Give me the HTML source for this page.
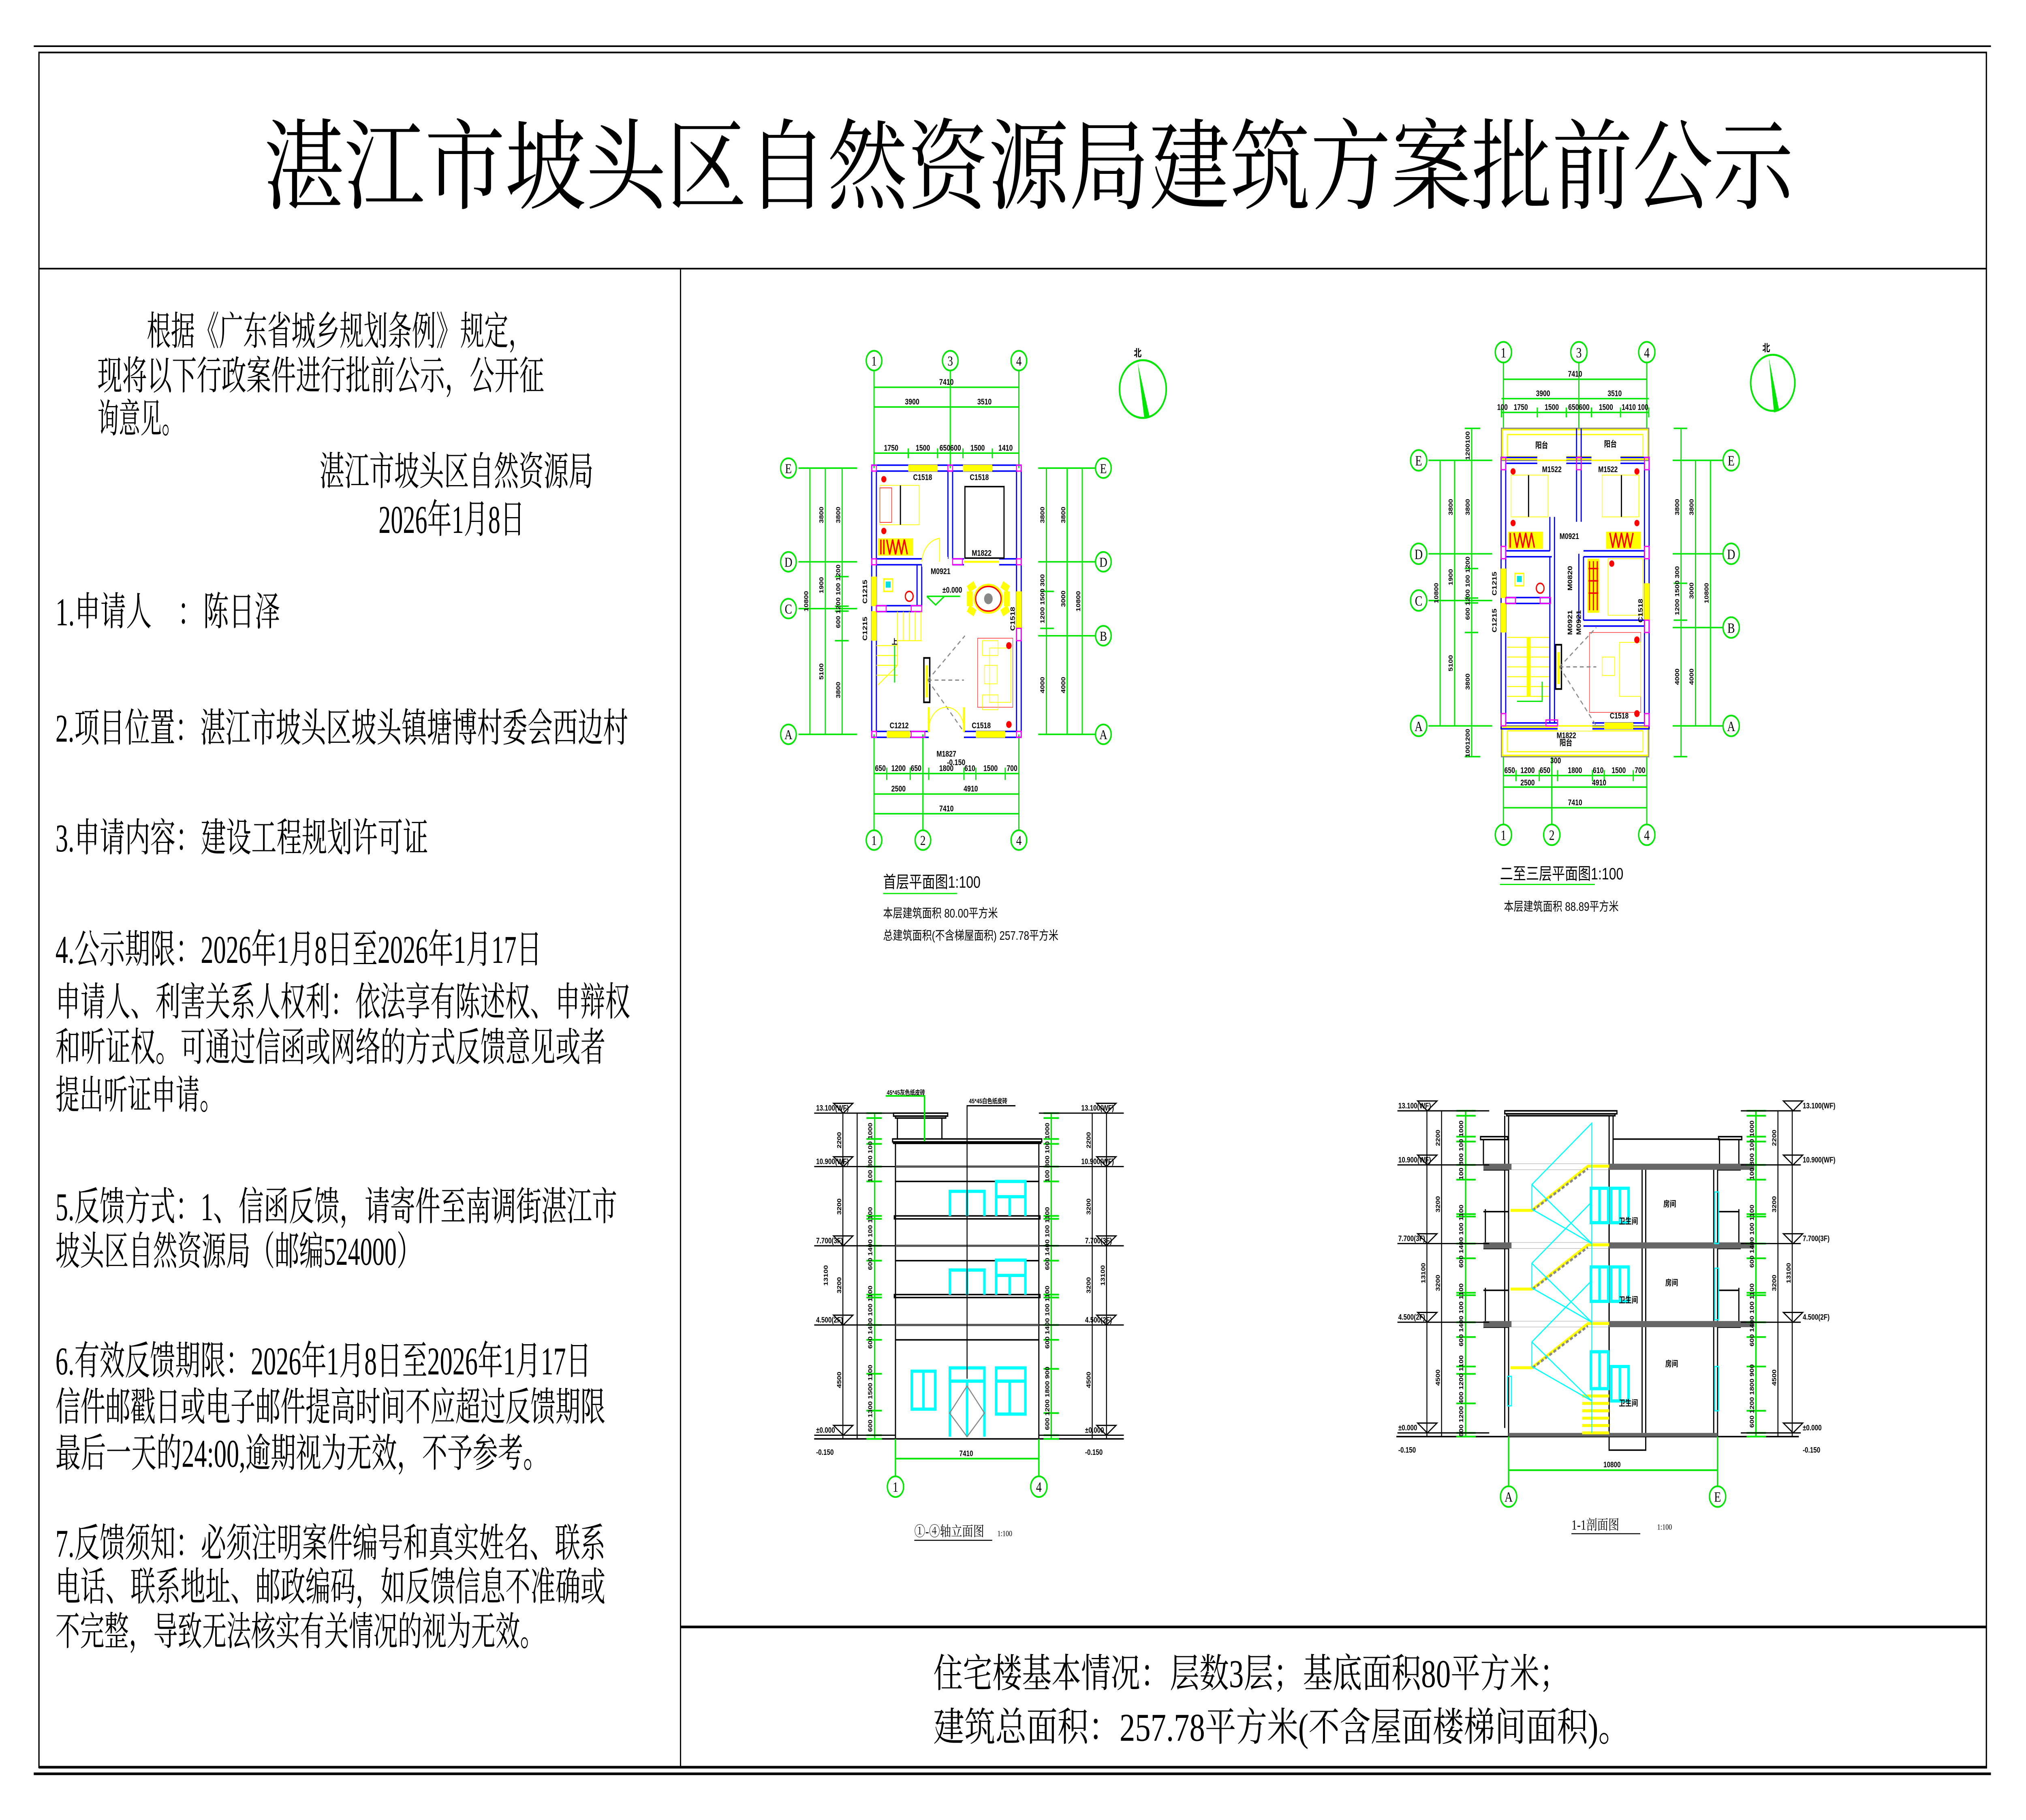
<!DOCTYPE html>
<html><head><meta charset="utf-8"><style>
html,body{margin:0;padding:0;background:#fff;width:100%;height:100%;overflow:hidden;}
svg{display:block;position:fixed;left:0;top:0;width:100vw;height:100vh;}
.t{font-family:"Liberation Serif","Noto Serif CJK SC",serif;fill:#000;}
.d{font-family:"Liberation Sans","Noto Sans CJK SC",sans-serif;font-weight:bold;fill:#000;}
.s{font-family:"Liberation Sans","Noto Sans CJK SC",sans-serif;fill:#000;}
</style></head><body>
<svg xmlns="http://www.w3.org/2000/svg" viewBox="0 0 1560 1103" preserveAspectRatio="none">
<rect width="1560" height="1103" fill="#fff"/>
<!-- frames -->
<line x1="26" y1="28" x2="1533" y2="28" stroke="#000" stroke-width="1"/>
<line x1="26" y1="1075" x2="1533" y2="1075" stroke="#000" stroke-width="1.6"/>
<rect x="30" y="31.8" width="1499.5" height="1039.3" fill="none" stroke="#000" stroke-width="1"/>
<line x1="30" y1="1071" x2="1530" y2="1071" stroke="#000" stroke-width="1.6"/>
<line x1="30" y1="162.8" x2="1529.5" y2="162.8" stroke="#000" stroke-width="1"/>
<line x1="524" y1="162.8" x2="524" y2="1071" stroke="#000" stroke-width="0.9"/>
<line x1="524" y1="986" x2="1529.5" y2="986" stroke="#000" stroke-width="1.6"/>

<!-- title -->
<text class="t" x="203" y="122" font-size="60" textLength="1178" lengthAdjust="spacingAndGlyphs">湛江市坡头区自然资源局建筑方案批前公示</text>

<!-- left text -->
<g class="t" font-size="24">
<text x="113" y="209" textLength="297" lengthAdjust="spacingAndGlyphs">根据《广东省城乡规划条例》规定，</text>
<text x="75" y="236" textLength="344" lengthAdjust="spacingAndGlyphs">现将以下行政案件进行批前公示，公开征</text>
<text x="75" y="262" textLength="66" lengthAdjust="spacingAndGlyphs">询意见。</text>
<text x="246" y="294" textLength="211" lengthAdjust="spacingAndGlyphs">湛江市坡头区自然资源局</text>
<text x="291.5" y="323" textLength="112.5" lengthAdjust="spacingAndGlyphs">2026年1月8日</text>
<text x="42.7" y="379" textLength="173" lengthAdjust="spacingAndGlyphs">1.申请人　：陈日泽</text>
<text x="42.7" y="449.5" textLength="441" lengthAdjust="spacingAndGlyphs">2.项目位置：湛江市坡头区坡头镇塘博村委会西边村</text>
<text x="42.7" y="516" textLength="287" lengthAdjust="spacingAndGlyphs">3.申请内容：建设工程规划许可证</text>
<text x="42.7" y="583.5" textLength="374.5" lengthAdjust="spacingAndGlyphs">4.公示期限：2026年1月8日至2026年1月17日</text>
<text x="42.7" y="615.5" textLength="442.5" lengthAdjust="spacingAndGlyphs">申请人、利害关系人权利：依法享有陈述权、申辩权</text>
<text x="42.7" y="643" textLength="423.5" lengthAdjust="spacingAndGlyphs">和听证权。可通过信函或网络的方式反馈意见或者</text>
<text x="42.7" y="672" textLength="129.5" lengthAdjust="spacingAndGlyphs">提出听证申请。</text>
<text x="42.7" y="739.5" textLength="432.5" lengthAdjust="spacingAndGlyphs">5.反馈方式：1、信函反馈，请寄件至南调街湛江市</text>
<text x="42.7" y="766.5" textLength="281.5" lengthAdjust="spacingAndGlyphs">坡头区自然资源局（邮编524000）</text>
<text x="42.7" y="833" textLength="412.5" lengthAdjust="spacingAndGlyphs">6.有效反馈期限：2026年1月8日至2026年1月17日</text>
<text x="42.7" y="861" textLength="423.5" lengthAdjust="spacingAndGlyphs">信件邮戳日或电子邮件提高时间不应超过反馈期限</text>
<text x="42.7" y="889" textLength="379.5" lengthAdjust="spacingAndGlyphs">最后一天的24:00,逾期视为无效，不予参考。</text>
<text x="42.7" y="943.5" textLength="423.5" lengthAdjust="spacingAndGlyphs">7.反馈须知：必须注明案件编号和真实姓名、联系</text>
<text x="42.7" y="970" textLength="423.5" lengthAdjust="spacingAndGlyphs">电话、联系地址、邮政编码，如反馈信息不准确或</text>
<text x="42.7" y="997" textLength="376.5" lengthAdjust="spacingAndGlyphs">不完整，导致无法核实有关情况的视为无效。</text>
<text x="718.6" y="1022.5" textLength="489.5" lengthAdjust="spacingAndGlyphs">住宅楼基本情况：层数3层；基底面积80平方米；</text>
<text x="718.6" y="1055" textLength="536" lengthAdjust="spacingAndGlyphs">建筑总面积：257.78平方米(不含屋面楼梯间面积)。</text>
</g>

<!-- ============ PLAN 1 ============ -->
<g transform="translate(673,283.7) scale(0.01505,0.01494)">
 <g stroke="#00e600" stroke-width="60" fill="none">
  <line x1="0" y1="-4000" x2="0" y2="0"/><line x1="3900" y1="-4000" x2="3900" y2="0"/><line x1="7410" y1="-4000" x2="7410" y2="0"/>
  <line x1="0" y1="-3280" x2="7410" y2="-3280"/><line x1="0" y1="-2480" x2="7410" y2="-2480"/><line x1="0" y1="-607" x2="7410" y2="-607"/>
  <path d="M1750 -800V-400M3250 -800V-400M4550 -800V-400M6050 -800V-400"/>
  <line x1="0" y1="10800" x2="0" y2="14700"/><line x1="2500" y1="10800" x2="2500" y2="14700"/><line x1="7410" y1="10800" x2="7410" y2="14700"/>
  <line x1="0" y1="12390" x2="7410" y2="12390"/><line x1="0" y1="13220" x2="7410" y2="13220"/><line x1="0" y1="14020" x2="7410" y2="14020"/>
  <path d="M650 12150V12650M1850 12150V12650M2800 12150V12650M4600 12150V12650M5210 12150V12650M6710 12150V12650"/>
  <line x1="-3867" y1="0" x2="-867" y2="0"/><line x1="-3867" y1="3800" x2="-867" y2="3800"/><line x1="-3867" y1="5700" x2="-867" y2="5700"/><line x1="-3867" y1="10800" x2="-867" y2="10800"/>
  <line x1="-3280" y1="0" x2="-3280" y2="10800"/><line x1="-2493" y1="0" x2="-2493" y2="10800"/><line x1="-1633" y1="0" x2="-1633" y2="10800"/>
  <path d="M-2000 4400H-1300M-2000 5600H-1300M-2000 5800H-1300M-2000 7000H-1300"/>
  <line x1="8400" y1="0" x2="11400" y2="0"/><line x1="8400" y1="3800" x2="11400" y2="3800"/><line x1="8400" y1="6800" x2="11400" y2="6800"/><line x1="8400" y1="10800" x2="11400" y2="10800"/>
  <line x1="8820" y1="0" x2="8820" y2="10800"/><line x1="9880" y1="0" x2="9880" y2="10800"/><line x1="10653" y1="0" x2="10653" y2="10800"/>
  <path d="M8500 5000H9200M8500 6500H9200"/>
 </g>
 <g stroke="#00e600" stroke-width="70" fill="#fff">
  <circle cx="0" cy="-4360" r="400"/><circle cx="3900" cy="-4360" r="400"/><circle cx="7410" cy="-4360" r="400"/>
  <circle cx="0" cy="15090" r="400"/><circle cx="2500" cy="15090" r="400"/><circle cx="7410" cy="15090" r="400"/>
  <circle cx="-4380" cy="0" r="400"/><circle cx="-4380" cy="3800" r="400"/><circle cx="-4380" cy="5700" r="400"/><circle cx="-4380" cy="10800" r="400"/>
  <circle cx="11733" cy="0" r="400"/><circle cx="11733" cy="3800" r="400"/><circle cx="11733" cy="6800" r="400"/><circle cx="11733" cy="10800" r="400"/>
 </g>
 <g class="t" font-size="560" text-anchor="middle">
  <text x="0" y="-4160">1</text><text x="3900" y="-4160">3</text><text x="7410" y="-4160">4</text>
  <text x="0" y="15290">1</text><text x="2500" y="15290">2</text><text x="7410" y="15290">4</text>
  <text x="-4380" y="200">E</text><text x="-4380" y="4000">D</text><text x="-4380" y="5900">C</text><text x="-4380" y="11000">A</text>
  <text x="11733" y="200">E</text><text x="11733" y="4000">D</text><text x="11733" y="7000">B</text><text x="11733" y="11000">A</text>
 </g>
 <g class="d" font-size="330" text-anchor="middle">
  <text x="3705" y="-3380">7410</text><text x="1950" y="-2580">3900</text><text x="5650" y="-2580">3510</text>
  <text x="875" y="-707">1750</text><text x="2500" y="-707">1500</text><text x="3900" y="-707">650600</text><text x="5300" y="-707">1500</text><text x="6730" y="-707">1410</text>
  <text x="325" y="12290">650</text><text x="1250" y="12290">1200</text><text x="2150" y="12290">650</text><text x="3700" y="12290">1800</text><text x="4900" y="12290">610</text><text x="5960" y="12290">1500</text><text x="7060" y="12290">700</text>
  <text x="1250" y="13120">2500</text><text x="4950" y="13120">4910</text><text x="3705" y="13920">7410</text>
  <text x="3700" y="11700">M1827</text><text x="4200" y="12050">-0.150</text>
 </g>
 <rect x="-120" y="-120" width="7650" height="11040" fill="none" stroke="#0000ff" stroke-width="60"/>
 <rect x="120" y="120" width="7170" height="10560" fill="none" stroke="#0000ff" stroke-width="60"/>
 <path d="M3780 120V3680M4020 120V3680M120 3680H2450M120 3920H2450M2200 3920V5580M2440 3920V5580M120 5580H2440M120 5820H2440M4020 3680H4600M4020 3920H4600M6400 3680H7290M6400 3920H7290" stroke="#0000ff" stroke-width="60" fill="none"/>
 <g fill="#fff"><rect x="2800" y="10600" width="1800" height="400"/><rect x="2450" y="3600" width="1330" height="400"/><rect x="4600" y="3600" width="1800" height="400"/></g>
 <g fill="#ffff00">
  <rect x="1750" y="-140" width="1500" height="280"/><rect x="4550" y="-140" width="1500" height="280"/>
  <rect x="650" y="10660" width="1200" height="280"/><rect x="5210" y="10660" width="1500" height="280"/>
  <rect x="-140" y="4400" width="280" height="1200"/><rect x="-140" y="5800" width="280" height="1200"/>
  <rect x="7270" y="5000" width="280" height="1500"/>
  <rect x="4600" y="3760" width="1800" height="80"/>
 </g>
 <g fill="none" stroke="#ff00ff" stroke-width="50">
  <rect x="-120" y="-120" width="240" height="240"/><rect x="3780" y="-120" width="240" height="240"/><rect x="7290" y="-120" width="240" height="240"/>
  <rect x="-120" y="3680" width="240" height="240"/><rect x="7290" y="3680" width="240" height="240"/><rect x="4020" y="3680" width="500" height="240"/>
  <rect x="-120" y="10680" width="240" height="240"/><rect x="7290" y="10680" width="240" height="240"/><rect x="1900" y="10680" width="700" height="240"/>
  <rect x="7290" y="6500" width="240" height="500"/><rect x="120" y="5580" width="500" height="240"/><rect x="1900" y="5580" width="540" height="240"/>
 </g>
 <rect x="300" y="700" width="2000" height="1600" fill="none" stroke="#ffff00" stroke-width="30"/>
 <line x1="1350" y1="700" x2="1350" y2="2300" stroke="#000" stroke-width="60"/>
 <path d="M300 800H900V2200H300Z" fill="none" stroke="#ff3030" stroke-width="30"/>
 <rect x="200" y="2850" width="1800" height="700" fill="#ffff00"/>
 <path d="M350 2900V3500M500 2900V3500M650 2900L800 3500L950 2900L1100 3500L1250 2900L1400 3500L1550 2900L1700 3500" stroke="#ff0000" stroke-width="70" fill="none"/>
 <rect x="4650" y="750" width="2000" height="2900" fill="none" stroke="#000" stroke-width="60"/>
 <path d="M2450 3800A1000 1000 0 0 1 3350 2850V3800" fill="none" stroke="#ffff00" stroke-width="40"/>
 <rect x="500" y="4500" width="450" height="500" fill="none" stroke="#ffff00" stroke-width="60"/>
 <rect x="600" y="4600" width="250" height="250" fill="#00e0e0"/>
 <circle cx="1800" cy="5200" r="200" fill="none" stroke="#ff0000" stroke-width="60"/>
 <g stroke="#ffff00" stroke-width="40" fill="none">
  <path d="M1200 5820V7000M1500 5820V7000M1800 5820V7000M2100 5820V7000M2400 5820V7000M1100 7000H2440"/>
  <path d="M120 7200H1200M120 7600H1200M120 8000H1200M120 8400H1200M1200 7000V8000L200 8800"/>
 </g>
 <line x1="1050" y1="7200" x2="1050" y2="8700" stroke="#00e600" stroke-width="50"/>
 <text class="d" x="900" y="7150" font-size="300">上</text>
 <g transform="translate(5850,5300)">
  <g fill="#ffff00"><rect x="-1100" y="-300" width="300" height="600"/><rect x="800" y="-300" width="300" height="600"/><rect x="-700" y="-1000" width="400" height="300" transform="rotate(-30)"/><rect x="300" y="-1000" width="400" height="300" transform="rotate(30)"/><rect x="-700" y="700" width="400" height="300" transform="rotate(30)"/><rect x="300" y="700" width="400" height="300" transform="rotate(-30)"/></g>
  <ellipse rx="700" ry="550" fill="#fff" stroke="#ffff00" stroke-width="120"/>
  <ellipse rx="650" ry="500" fill="none" stroke="#ff0000" stroke-width="60"/>
  <circle r="220" fill="#888"/>
 </g>
 <rect x="5300" y="6900" width="1800" height="2800" fill="none" stroke="#ff3030" stroke-width="25"/>
 <rect x="5900" y="7300" width="1100" height="2200" fill="none" stroke="#ffff00" stroke-width="30"/>
 <rect x="5550" y="7000" width="800" height="600" fill="none" stroke="#ffff00" stroke-width="30"/>
 <rect x="5550" y="9200" width="800" height="600" fill="none" stroke="#ffff00" stroke-width="30"/>
 <rect x="5650" y="8000" width="650" height="750" fill="none" stroke="#ffff00" stroke-width="30"/>
 <rect x="2550" y="7700" width="300" height="1800" fill="none" stroke="#000" stroke-width="70"/>
 <rect x="2640" y="8000" width="120" height="1300" fill="#ffff00"/>
 <path d="M2750 8600L4650 6800M2750 8600H4600M2750 8600L4600 10700" stroke="#888" stroke-width="50" stroke-dasharray="200 150" fill="none"/>
 <path d="M2800 10600A900 900 0 0 1 3700 9700M4600 10600A900 900 0 0 0 3700 9700" fill="none" stroke="#ffff00" stroke-width="40"/>
 <path d="M2800 9700V10700M4600 9700V10700" stroke="#ffff00" stroke-width="100"/>
 <g fill="#ff0000"><circle cx="500" cy="450" r="130"/><circle cx="500" cy="2550" r="130"/><circle cx="6900" cy="7200" r="140"/><circle cx="6900" cy="10400" r="140"/></g>
 <path d="M2700 5200H4400M2700 5200L3150 5550L3600 5200" stroke="#00e600" stroke-width="60" fill="none"/>
 <g class="d" font-size="330">
  <text x="2000" y="480">C1518</text><text x="4900" y="480">C1518</text><text x="5000" y="3560">M1822</text>
  <text x="3500" y="5050">±0.000</text><text x="800" y="10550">C1212</text><text x="5000" y="10550">C1518</text>
  <text x="2900" y="4300">M0921</text>
  <text transform="translate(-350,5500) rotate(-90)">C1215</text><text transform="translate(-350,7000) rotate(-90)">C1215</text>
  <text transform="translate(7200,6600) rotate(-90)">C1518</text>
 </g>
 <g class="d" font-size="300" text-anchor="middle">
  <text transform="translate(-3370,5400) rotate(-90)">10800</text>
  <text transform="translate(-2590,1900) rotate(-90)">3800</text><text transform="translate(-2590,4750) rotate(-90)">1900</text><text transform="translate(-2590,8250) rotate(-90)">5100</text>
  <text transform="translate(-1730,1900) rotate(-90)">3800</text><text transform="translate(-1730,5200) rotate(-90)">600 1200 100 1200</text><text transform="translate(-1730,9000) rotate(-90)">3800</text>
  <text transform="translate(8720,1900) rotate(-90)">3800</text><text transform="translate(8720,5300) rotate(-90)">1200 1500 300</text><text transform="translate(8720,8800) rotate(-90)">4000</text>
  <text transform="translate(9780,1900) rotate(-90)">3800</text><text transform="translate(9780,5300) rotate(-90)">3000</text><text transform="translate(9780,8800) rotate(-90)">4000</text>
  <text transform="translate(10550,5400) rotate(-90)">10800</text>
 </g>
</g>
<ellipse cx="880" cy="235.8" rx="18" ry="17.5" fill="none" stroke="#00e600" stroke-width="1.2"/>
<path d="M876 220L885 252L881 253Z" fill="#00e600"/>
<text class="d" x="873" y="216" font-size="6">北</text>
<text class="s" x="680" y="538" font-size="10">首层平面图1:100</text>
<line x1="680" y1="541.5" x2="737" y2="541.5" stroke="#00e600" stroke-width="0.7"/>
<text class="s" x="680" y="556" font-size="7.5">本层建筑面积 80.00平方米</text>
<text class="s" x="680" y="569.5" font-size="7.5">总建筑面积(不含梯屋面积) 257.78平方米</text>

<!-- ============ PLAN 2 ============ -->
<g transform="translate(1157.6,279) scale(0.0149)">
 <g stroke="#00e600" stroke-width="60" fill="none">
  <line x1="0" y1="-4000" x2="0" y2="-1300"/><line x1="3900" y1="-4000" x2="3900" y2="-1300"/><line x1="7410" y1="-4000" x2="7410" y2="-1300"/>
  <line x1="0" y1="-3300" x2="7410" y2="-3300"/><line x1="-100" y1="-2510" x2="7510" y2="-2510"/><line x1="-100" y1="-1950" x2="7510" y2="-1950"/>
  <path d="M-100 -2150V-1750M1750 -2150V-1750M3250 -2150V-1750M4550 -2150V-1750M6050 -2150V-1750M7510 -2150V-1750"/>
  <line x1="0" y1="12050" x2="0" y2="14900"/><line x1="2500" y1="12050" x2="2500" y2="14900"/><line x1="7410" y1="12050" x2="7410" y2="14900"/>
  <line x1="0" y1="12820" x2="7410" y2="12820"/><line x1="0" y1="13290" x2="7410" y2="13290"/><line x1="0" y1="14130" x2="7410" y2="14130"/>
  <path d="M650 12600V13050M1850 12600V13050M2800 12600V13050M4600 12600V13050M5210 12600V13050M6710 12600V13050"/>
  <line x1="-3870" y1="0" x2="-580" y2="0"/><line x1="-3870" y1="3800" x2="-580" y2="3800"/><line x1="-3870" y1="5700" x2="-580" y2="5700"/><line x1="-3870" y1="10800" x2="-580" y2="10800"/>
  <line x1="-3270" y1="0" x2="-3270" y2="10800"/><line x1="-2520" y1="0" x2="-2520" y2="10800"/><line x1="-1640" y1="-1300" x2="-1640" y2="12050"/>
  <path d="M-2000 -1300H-1200M-2000 12050H-1200M-2000 4400H-1300M-2000 5600H-1300M-2000 5800H-1300M-2000 7000H-1300"/>
  <line x1="8750" y1="0" x2="11400" y2="0"/><line x1="8750" y1="3800" x2="11400" y2="3800"/><line x1="8750" y1="6800" x2="11400" y2="6800"/><line x1="8750" y1="10800" x2="11400" y2="10800"/>
  <line x1="9180" y1="-1300" x2="9180" y2="12050"/><line x1="9930" y1="0" x2="9930" y2="10800"/><line x1="10700" y1="0" x2="10700" y2="10800"/>
  <path d="M8800 -1300H9500M8800 12050H9500M8800 5000H9500M8800 6500H9500"/>
 </g>
 <g stroke="#00e600" stroke-width="70" fill="#fff">
  <circle cx="0" cy="-4400" r="420"/><circle cx="3900" cy="-4400" r="420"/><circle cx="7410" cy="-4400" r="420"/>
  <circle cx="0" cy="15230" r="420"/><circle cx="2500" cy="15230" r="420"/><circle cx="7410" cy="15230" r="420"/>
  <circle cx="-4380" cy="0" r="420"/><circle cx="-4380" cy="3800" r="420"/><circle cx="-4380" cy="5700" r="420"/><circle cx="-4380" cy="10800" r="420"/>
  <circle cx="11770" cy="0" r="420"/><circle cx="11770" cy="3800" r="420"/><circle cx="11770" cy="6800" r="420"/><circle cx="11770" cy="10800" r="420"/>
 </g>
 <g class="t" font-size="580" text-anchor="middle">
  <text x="0" y="-4190">1</text><text x="3900" y="-4190">3</text><text x="7410" y="-4190">4</text>
  <text x="0" y="15440">1</text><text x="2500" y="15440">2</text><text x="7410" y="15440">4</text>
  <text x="-4380" y="210">E</text><text x="-4380" y="4010">D</text><text x="-4380" y="5910">C</text><text x="-4380" y="11010">A</text>
  <text x="11770" y="210">E</text><text x="11770" y="4010">D</text><text x="11770" y="7010">B</text><text x="11770" y="11010">A</text>
 </g>
 <g class="d" font-size="330" text-anchor="middle">
  <text x="3705" y="-3400">7410</text><text x="2050" y="-2610">3900</text><text x="5750" y="-2610">3510</text>
  <text x="-50" y="-2050">100</text><text x="900" y="-2050">1750</text><text x="2500" y="-2050">1500</text><text x="3900" y="-2050">650600</text><text x="5300" y="-2050">1500</text><text x="6800" y="-2050">1410 100</text>
  <text x="325" y="12720">650</text><text x="1250" y="12720">1200</text><text x="2150" y="12720">650</text><text x="3700" y="12720">1800</text><text x="4900" y="12720">610</text><text x="5960" y="12720">1500</text><text x="7060" y="12720">700</text>
  <text x="1250" y="13220">2500</text><text x="4950" y="13220">4910</text><text x="3705" y="14030">7410</text><text x="2700" y="12320">300</text>
 </g>
 <rect x="-100" y="-1300" width="7610" height="1300" fill="none" stroke="#888" stroke-width="60"/>
 <rect x="-50" y="-1250" width="7510" height="1200" fill="none" stroke="#ffff00" stroke-width="60"/>
 <rect x="200" y="-1050" width="7010" height="900" fill="none" stroke="#ffff00" stroke-width="50"/>
 <rect x="-100" y="10800" width="7610" height="1250" fill="none" stroke="#888" stroke-width="60"/>
 <rect x="-50" y="10850" width="7510" height="1150" fill="none" stroke="#ffff00" stroke-width="60"/>
 <rect x="200" y="11000" width="7010" height="850" fill="none" stroke="#ffff00" stroke-width="50"/>
 <path d="M3780 -1300V0M4020 -1300V0" stroke="#0000ff" stroke-width="60"/>
 <rect x="-120" y="-120" width="7650" height="11040" fill="none" stroke="#0000ff" stroke-width="60"/>
 <rect x="120" y="120" width="7170" height="10560" fill="none" stroke="#0000ff" stroke-width="60"/>
 <path d="M3780 120V2500M4020 120V2500M120 3680H2400M120 3920H2500M2400 2300V3680M2640 2300V10680M2400 3920V10680M3900 3800V6600M4140 3920V6500M4140 3680H7290M4140 3920H7290M4140 6500H7290M4140 6740H7290M120 5580H2400M120 5820H2400" stroke="#0000ff" stroke-width="60" fill="none"/>
 <g fill="#fff"><rect x="1750" y="-200" width="1500" height="400"/><rect x="4550" y="-200" width="1500" height="400"/><rect x="2800" y="10600" width="1800" height="400"/></g>
 <g fill="#ffff00">
  <rect x="1750" y="-30" width="1500" height="60"/><rect x="4550" y="-30" width="1500" height="60"/>
  <rect x="2800" y="10770" width="1800" height="60"/><rect x="5210" y="10660" width="1500" height="280"/>
  <rect x="-140" y="4400" width="280" height="1200"/><rect x="-140" y="5800" width="280" height="1200"/>
  <rect x="7270" y="5000" width="280" height="1500"/>
 </g>
 <g fill="none" stroke="#ff00ff" stroke-width="50">
  <rect x="-120" y="-120" width="240" height="500"/><rect x="3780" y="-120" width="240" height="500"/><rect x="7290" y="-120" width="240" height="500"/>
  <rect x="-120" y="3500" width="240" height="500"/><rect x="7290" y="3500" width="240" height="500"/>
  <rect x="-120" y="10300" width="240" height="500"/><rect x="7290" y="10300" width="240" height="500"/><rect x="2200" y="10560" width="600" height="240"/>
  <rect x="7290" y="6500" width="240" height="500"/><rect x="120" y="5580" width="500" height="240"/><rect x="1900" y="5580" width="540" height="240"/>
 </g>
 <rect x="400" y="600" width="1900" height="1700" fill="none" stroke="#ffff00" stroke-width="30"/>
 <line x1="1300" y1="600" x2="1300" y2="2300" stroke="#000" stroke-width="60"/>
 <rect x="5100" y="600" width="1900" height="1700" fill="none" stroke="#ffff00" stroke-width="30"/>
 <line x1="6100" y1="600" x2="6100" y2="2300" stroke="#000" stroke-width="60"/>
 <rect x="250" y="2900" width="1800" height="700" fill="#ffff00"/><rect x="5300" y="2900" width="1800" height="700" fill="#ffff00"/>
 <path d="M350 2950V3550M550 2950L700 3550L850 2950L1000 3550L1150 2950L1300 3550L1450 2950L1600 3550M5500 2950L5650 3550L5800 2950L5950 3550L6100 2950L6250 3550L6400 2950L6550 3550L6700 2950" stroke="#ff0000" stroke-width="70" fill="none"/>
 <rect x="4350" y="4000" width="600" height="2200" fill="#ffff00"/>
 <path d="M4450 4100V6100M4650 4100V6100M4850 4100V6100M4400 4400H4900M4400 4900H4900M4400 5400H4900" stroke="#ff0000" stroke-width="60"/>
 <rect x="5400" y="4000" width="1800" height="2300" fill="none" stroke="#ffff00" stroke-width="30"/>
 <rect x="600" y="4600" width="450" height="500" fill="none" stroke="#ffff00" stroke-width="60"/>
 <rect x="700" y="4700" width="250" height="250" fill="#00e0e0"/>
 <circle cx="1900" cy="5200" r="200" fill="none" stroke="#ff0000" stroke-width="60"/>
 <g stroke="#ffff00" stroke-width="40" fill="none">
  <path d="M200 7200H2350M200 7600H2350M200 8000H2350M200 8400H2350M200 8800H2350M200 9200H2350M200 9600H2350"/>
  <path d="M1300 7200V9600" stroke-width="200"/>
 </g>
 <path d="M700 9800H2000V9000" stroke="#00e600" stroke-width="50" fill="none"/>
 <rect x="4450" y="7000" width="2650" height="3250" fill="none" stroke="#ff3030" stroke-width="25"/>
 <rect x="6000" y="7400" width="1100" height="2200" fill="none" stroke="#ffff00" stroke-width="30"/>
 <rect x="5100" y="8000" width="650" height="750" fill="none" stroke="#ffff00" stroke-width="30"/>
 <rect x="2700" y="7500" width="300" height="1800" fill="none" stroke="#000" stroke-width="70"/>
 <rect x="2790" y="7800" width="120" height="1300" fill="#ffff00"/>
 <path d="M2900 8400L4800 6800M2900 8400H4800M2900 8400L4800 10800" stroke="#888" stroke-width="50" stroke-dasharray="200 150" fill="none"/>
 <g fill="#ff0000"><circle cx="500" cy="450" r="130"/><circle cx="500" cy="2550" r="130"/><circle cx="6900" cy="450" r="130"/><circle cx="6900" cy="2550" r="130"/><circle cx="6900" cy="7300" r="140"/><circle cx="6900" cy="10300" r="140"/><circle cx="5600" cy="4200" r="130"/></g>
 <g class="d" font-size="330">
  <text x="1650" y="-500">阳台</text><text x="5200" y="-550">阳台</text>
  <text x="2000" y="480">M1522</text><text x="4900" y="480">M1522</text><text x="5500" y="10500">C1518</text>
  <text x="2750" y="11300">M1822</text><text x="2900" y="3200">M0921</text><text x="2900" y="11600">阳台</text>
  <text transform="translate(-350,5500) rotate(-90)">C1215</text><text transform="translate(-350,7000) rotate(-90)">C1215</text>
  <text transform="translate(7200,6600) rotate(-90)">C1518</text>
  <text transform="translate(3550,5300) rotate(-90)">M0820</text><text transform="translate(3550,7100) rotate(-90)">M0921</text><text transform="translate(4000,7100) rotate(-90)">M0921</text>
 </g>
 <g class="d" font-size="300" text-anchor="middle">
  <text transform="translate(-3370,5400) rotate(-90)">10800</text>
  <text transform="translate(-2620,1900) rotate(-90)">3800</text><text transform="translate(-2620,4750) rotate(-90)">1900</text><text transform="translate(-2620,8250) rotate(-90)">5100</text>
  <text transform="translate(-1740,1900) rotate(-90)">3800</text><text transform="translate(-1740,5200) rotate(-90)">600 1200 100 1200</text><text transform="translate(-1740,9000) rotate(-90)">3800</text>
  <text transform="translate(-1740,-600) rotate(-90)">1200100</text><text transform="translate(-1740,11500) rotate(-90)">1001200</text>
  <text transform="translate(9080,1900) rotate(-90)">3800</text><text transform="translate(9080,5300) rotate(-90)">1200 1500 300</text><text transform="translate(9080,8800) rotate(-90)">4000</text>
  <text transform="translate(9830,1900) rotate(-90)">3800</text><text transform="translate(9830,5300) rotate(-90)">3000</text><text transform="translate(9830,8800) rotate(-90)">4000</text>
  <text transform="translate(10600,5400) rotate(-90)">10800</text>
 </g>
</g>
<ellipse cx="1365" cy="232" rx="17" ry="17" fill="none" stroke="#00e600" stroke-width="1.2"/>
<path d="M1362 217L1370 249L1366 250Z" fill="#00e600"/>
<text class="d" x="1357" y="213" font-size="6">北</text>
<text class="s" x="1155" y="533" font-size="10">二至三层平面图1:100</text>
<line x1="1155" y1="536" x2="1228" y2="536" stroke="#00e600" stroke-width="0.7"/>
<text class="s" x="1158" y="552" font-size="7.5">本层建筑面积 88.89平方米</text>

<!-- ============ ELEVATION ============ -->
<g transform="translate(689.5,869.8) scale(0.0149)">
 <g stroke="#000" stroke-width="60" fill="none">
  <line x1="-4200" y1="150" x2="11800" y2="150"/>
  <path d="M0 150V-11950M7410 150V-11950"/>
  <rect x="-150" y="-12050" width="7710" height="120"/>
  <rect x="-100" y="-11930" width="7610" height="60"/>
  <path d="M100 -12050V-12900M2400 -12050V-12900"/>
  <rect x="-100" y="-13100" width="2800" height="120"/><rect x="0" y="-12980" width="2600" height="80"/>
  <rect x="-60" y="-8920" width="7530" height="120"/><rect x="-60" y="-5720" width="7530" height="120"/>
  <path d="M0 -10322H7410M0 -7100H7410M0 -3879H7410"/>
 </g>
 <path d="M0 -10926H7410M0 -7705H7410M0 -4483H7410" stroke="#555" stroke-width="90"/>
 <g stroke="#00ffff" stroke-width="130" fill="none">
  <path d="M2812 -8913V-9919H4597V-8913M3700 -9919V-8913"/>
  <path d="M5201 -8913V-10322H6711V-8913M5201 -9700H6711M5900 -9700V-8913"/>
  <path d="M2812 -5713V-6719H4597V-5713M3700 -6719V-5713"/>
  <path d="M5201 -5713V-7122H6711V-5713M5201 -6500H6711M5900 -6500V-5713"/>
  <rect x="843" y="-2604" width="1207" height="1544"/><path d="M1446 -2604V-1060"/>
  <path d="M2812 60V-2738H4597V60M2812 -2200H4597M3700 -2200V60"/>
  <rect x="5201" y="-2738" width="1510" height="1879"/><path d="M5201 -2200H6711M5900 -2200V-859"/>
 </g>
 <path d="M3700 -2000L4600 -900L3700 60L2800 -900Z" stroke="#888" stroke-width="50" fill="none"/>
 <path d="M3700 -2300V-13400H6200" stroke="#000" stroke-width="50" fill="none"/>
 <path d="M1500 -11950V-13800H-500" stroke="#00e600" stroke-width="70" fill="none"/>
 <path d="M-1074 150V-13100M8050 150V-13100" stroke="#00e600" stroke-width="70"/>
 <g stroke="#00e600" stroke-width="70"><path d="M-1500 -13100H-700M-1500 -12900H-700M-1500 -12050H-700M-1500 -11850H-700M-1500 -10926H-700M-1500 -10322H-700M-1500 -8920H-700M-1500 -8800H-700M-1500 -7705H-700M-1500 -7100H-700M-1500 -5720H-700M-1500 -5600H-700M-1500 -4483H-700M-1500 -3879H-700M-1500 -2500H-700M-1500 -1000H-700M-1500 0H-700M-1500 150H-700"/>
 <path d="M7650 -13100H8450M7650 -12900H8450M7650 -12050H8450M7650 -11850H8450M7650 -10926H8450M7650 -10322H8450M7650 -8920H8450M7650 -8800H8450M7650 -7705H8450M7650 -7100H8450M7650 -5720H8450M7650 -5600H8450M7650 -4483H8450M7650 -3879H8450M7650 -2700H8450M7650 -900H8450M7650 0H8450M7650 150H8450"/></g>
 <g stroke="#000" stroke-width="50" fill="none">
  <path d="M-2718 150V-13100M-1980 150V-13100M10168 150V-13100M10906 150V-13100"/>
  <path d="M-4200 -13100H0M-4200 -10926H0M-4200 -7705H0M-4200 -4483H0M-4200 0H0"/>
  <path d="M7410 -13100H11800M7410 -10926H11800M7410 -7705H11800M7410 -4483H11800M7410 0H11800"/>
  <path d="M-3200 -13500L-2700 -13100L-2200 -13500ZM-3200 -11326L-2700 -10926L-2200 -11326ZM-3200 -8105L-2700 -7705L-2200 -8105ZM-3200 -4883L-2700 -4483L-2200 -4883ZM-3200 -400L-2700 0L-2200 -400Z"/>
  <path d="M10400 -13500L10900 -13100L11400 -13500ZM10400 -11326L10900 -10926L11400 -11326ZM10400 -8105L10900 -7705L11400 -8105ZM10400 -4883L10900 -4483L11400 -4883ZM10400 -400L10900 0L11400 -400Z"/>
 </g>
 <path d="M0 150V2100M7410 150V2100M0 953H7410" stroke="#00e600" stroke-width="70" fill="none"/>
 <g stroke="#00e600" stroke-width="70" fill="#fff"><circle cx="0" cy="2094" r="420"/><circle cx="7410" cy="2094" r="420"/></g>
 <g class="t" font-size="580" text-anchor="middle"><text x="0" y="2300">1</text><text x="7410" y="2300">4</text></g>
 <g class="d" font-size="320">
  <text x="-4100" y="-13200">13.100(WF)</text><text x="-4100" y="-11026">10.900(WF)</text><text x="-4100" y="-7805">7.700(3F)</text><text x="-4100" y="-4583">4.500(2F)</text><text x="-4100" y="-100">±0.000</text><text x="-4100" y="800">-0.150</text>
  <text x="9600" y="-13200">13.100(WF)</text><text x="9600" y="-11026">10.900(WF)</text><text x="9800" y="-7805">7.700(3F)</text><text x="9800" y="-4583">4.500(2F)</text><text x="9800" y="-100">±0.000</text><text x="9800" y="800">-0.150</text>
  <text x="3300" y="850">7410</text>
  <text x="-450" y="-13850" font-size="260">45*45灰色纸皮砖</text><text x="3800" y="-13500" font-size="260">45*45白色纸皮砖</text>
 </g>
 <g class="d" font-size="300" text-anchor="middle">
  <text transform="translate(-2800,-12000) rotate(-90)">2200</text><text transform="translate(-2800,-9300) rotate(-90)">3200</text><text transform="translate(-2800,-6100) rotate(-90)">3200</text><text transform="translate(-2800,-2250) rotate(-90)">4500</text>
  <text transform="translate(-3500,-6500) rotate(-90)">13100</text>
  <text transform="translate(-1200,-11500) rotate(-90)">100 800 100 1000</text><text transform="translate(-1200,-8000) rotate(-90)">600 1400 100 1100</text><text transform="translate(-1200,-4800) rotate(-90)">600 1400 100 1100</text><text transform="translate(-1200,-1500) rotate(-90)">600 1300 1500 1100</text>
  <text transform="translate(7950,-11500) rotate(-90)">100 800 100 1000</text><text transform="translate(7950,-8000) rotate(-90)">600 1400 100 1100</text><text transform="translate(7950,-4800) rotate(-90)">600 1400 100 1100</text><text transform="translate(7950,-1500) rotate(-90)">600 1200 1800 900</text>
  <text transform="translate(10080,-12000) rotate(-90)">2200</text><text transform="translate(10080,-9300) rotate(-90)">3200</text><text transform="translate(10080,-6100) rotate(-90)">3200</text><text transform="translate(10080,-2250) rotate(-90)">4500</text>
  <text transform="translate(10820,-6500) rotate(-90)">13100</text>
 </g>
</g>
<text class="t" x="704" y="931" font-size="8.5">①-④轴立面图</text>
<text class="t" x="768" y="931" font-size="5">1:100</text>
<line x1="704" y1="933.5" x2="764" y2="933.5" stroke="#000" stroke-width="0.6"/>

<!-- ============ SECTION ============ -->
<g transform="translate(1161.6,868.4) scale(0.0149)">
 <g stroke="#000" stroke-width="60" fill="none">
  <line x1="-5800" y1="150" x2="15000" y2="150"/>
  <path d="M0 150V-12900M-200 -200V-12900M5195 150V-12900M5400 -10900V-12900"/>
  <rect x="-200" y="-13100" width="5800" height="120"/><rect x="-100" y="-12980" width="5600" height="80"/>
  <path d="M5400 -11950H10900V-10900M10800 -10900V150M10600 -10900V150M7087 -10800V0M6900 -10800V0M5195 -10800V150"/>
  <rect x="-1450" y="-12050" width="1400" height="120"/><rect x="10850" y="-12050" width="1200" height="120"/>
  <path d="M-1300 -11930V-10900M11900 -11930V-10900"/>
  <path d="M-1300 -10700H0M-1300 -7500H0M-1300 -4300H0M10800 -10700H12000M10800 -7500H12000M10800 -4300H12000"/>
  <path d="M-1300 -9000H0V-8700M-1300 -5800H0M11900 -9000H10800M11900 -5800H10800"/>
  <path d="M-1200 -9100V-7600M-1200 -5900V-4400M11900 -9100V-7600M11900 -5900V-4400"/>
  <path d="M5195 0V700H7087V0"/>
 </g>
 <g fill="#666">
  <rect x="-1300" y="-10950" width="14000" height="250"/><rect x="-1300" y="-7750" width="14000" height="250"/><rect x="-1300" y="-4550" width="14000" height="250"/>
  <rect x="0" y="0" width="10800" height="150"/>
 </g>
 <g fill="#fff"><rect x="150" y="-10940" width="5000" height="230"/><rect x="150" y="-7740" width="5000" height="230"/><rect x="150" y="-4540" width="5000" height="230"/></g>
 <g stroke="#ffff00" stroke-width="120" fill="none">
  <path d="M100 -9050H1200L4100 -10850H5195"/>
  <path d="M100 -5850H1200L4100 -7650H5195"/>
  <path d="M100 -2650H1200L4100 -4450H5195"/>
  <path d="M3800 0H5195M3800 -300H5195M3800 -600H5195M3800 -900H5195M3800 -1200H5195M3800 -1500H5195"/>
 </g>
 <g stroke="#888" stroke-width="100" fill="none" stroke-dasharray="150 100">
  <path d="M1250 -9050L4100 -10750"/><path d="M1250 -5850L4100 -7550"/><path d="M1250 -2650L4100 -4350"/>
 </g>
 <g stroke="#00ffff" stroke-width="50" fill="none">
  <path d="M1200 -9100V-10100L4300 -12600V-10900M1200 -10100L4300 -7700M1200 -9100L4300 -7700V-10900"/>
  <path d="M1200 -5900V-6900L4300 -9400V-7700M1200 -6900L4300 -4500M1200 -5900L4300 -4500V-7700"/>
  <path d="M1200 -2700V-3700L4300 -6200V-4500M1200 -3700L4300 -1300M1200 -2700L4300 -1300V-4500M4300 -1300V0"/>
 </g>
 <g stroke="#00ffff" stroke-width="130" fill="none">
  <rect x="4250" y="-9950" width="900" height="1400"/><path d="M4700 -9950V-8550"/>
  <rect x="5300" y="-9950" width="900" height="1400"/><path d="M5750 -9950V-8550"/>
  <rect x="4250" y="-6750" width="900" height="1400"/><path d="M4700 -6750V-5350"/>
  <rect x="5300" y="-6750" width="900" height="1400"/><path d="M5750 -6750V-5350"/>
  <rect x="4250" y="-3300" width="900" height="1500"/><path d="M4700 -3300V-1800"/>
  <rect x="5300" y="-2700" width="900" height="1400"/><path d="M5750 -2700V-1300"/>
 </g>
 <g stroke="#00ffff" stroke-width="50" fill="none"><rect x="10650" y="-9800" width="200" height="2100"/><rect x="10650" y="-6700" width="200" height="2100"/><rect x="10650" y="-2700" width="200" height="1800"/><rect x="-60" y="-2300" width="200" height="1200"/></g>
 <g class="d" font-size="330">
  <text x="8000" y="-9200">房间</text><text x="8100" y="-6000">房间</text><text x="8100" y="-2700">房间</text>
  <text x="5700" y="-8500">卫生间</text><text x="5700" y="-5300">卫生间</text><text x="5700" y="-1100">卫生间</text>
 </g>
 <path d="M-2221 150V-13100M12778 150V-13100" stroke="#00e600" stroke-width="70"/>
 <g stroke="#00e600" stroke-width="70"><path d="M-2700 -13100H-1700M-2700 -12900H-1700M-2700 -12050H-1700M-2700 -11850H-1700M-2700 -10900H-1700M-2700 -10300H-1700M-2700 -8900H-1700M-2700 -8800H-1700M-2700 -7700H-1700M-2700 -7100H-1700M-2700 -5700H-1700M-2700 -5600H-1700M-2700 -4500H-1700M-2700 -3900H-1700M-2700 -2700H-1700M-2700 -2400H-1700M-2700 -1200H-1700M-2700 0H-1700M-2700 150H-1700"/>
 <path d="M12300 -13100H13300M12300 -12900H13300M12300 -12050H13300M12300 -11850H13300M12300 -10900H13300M12300 -10300H13300M12300 -8900H13300M12300 -8800H13300M12300 -7700H13300M12300 -7100H13300M12300 -5700H13300M12300 -5600H13300M12300 -4500H13300M12300 -3900H13300M12300 -2700H13300M12300 -900H13300M12300 0H13300M12300 150H13300"/></g>
 <g stroke="#000" stroke-width="50" fill="none">
  <path d="M-4221 150V-13100M-3463 150V-13100M13919 150V-13100M14657 150V-13100"/>
  <path d="M-5745 -13100H-1000M-5745 -10900H-1000M-5745 -7700H-1000M-5745 -4500H-1000M-5745 0H-1000"/>
  <path d="M12000 -13100H15100M12000 -10900H15100M12000 -7700H15100M12000 -4500H15100M12000 0H15100"/>
  <path d="M-4700 -13500L-4200 -13100L-3700 -13500ZM-4700 -11300L-4200 -10900L-3700 -11300ZM-4700 -8100L-4200 -7700L-3700 -8100ZM-4700 -4900L-4200 -4500L-3700 -4900ZM-4700 -400L-4200 0L-3700 -400Z"/>
  <path d="M14200 -13500L14700 -13100L15200 -13500ZM14200 -11300L14700 -10900L15200 -11300ZM14200 -8100L14700 -7700L15200 -8100ZM14200 -4900L14700 -4500L15200 -4900ZM14200 -400L14700 0L15200 -400Z"/>
 </g>
 <path d="M0 150V2600M10800 150V2600M0 1516H10800" stroke="#00e600" stroke-width="70" fill="none"/>
 <g stroke="#00e600" stroke-width="70" fill="#fff"><circle cx="0" cy="2590" r="420"/><circle cx="10800" cy="2590" r="420"/></g>
 <g class="t" font-size="580" text-anchor="middle"><text x="0" y="2795">A</text><text x="10800" y="2795">E</text></g>
 <g class="d" font-size="320">
  <text x="-5700" y="-13200">13.100(WF)</text><text x="-5700" y="-11000">10.900(WF)</text><text x="-5700" y="-7800">7.700(3F)</text><text x="-5700" y="-4600">4.500(2F)</text><text x="-5700" y="-100">±0.000</text><text x="-5700" y="800">-0.150</text>
  <text x="15200" y="-13200">13.100(WF)</text><text x="15200" y="-11000">10.900(WF)</text><text x="15200" y="-7800">7.700(3F)</text><text x="15200" y="-4600">4.500(2F)</text><text x="15200" y="-100">±0.000</text><text x="15200" y="800">-0.150</text>
  <text x="4900" y="1400">10800</text>
 </g>
 <g class="d" font-size="300" text-anchor="middle">
  <text transform="translate(-3550,-12000) rotate(-90)">2200</text><text transform="translate(-3550,-9300) rotate(-90)">3200</text><text transform="translate(-3550,-6100) rotate(-90)">3200</text><text transform="translate(-3550,-2250) rotate(-90)">4500</text>
  <text transform="translate(-4300,-6500) rotate(-90)">13100</text>
  <text transform="translate(-2350,-11500) rotate(-90)">100 800 100 1000</text><text transform="translate(-2350,-8000) rotate(-90)">600 1400 100 1100</text><text transform="translate(-2350,-4800) rotate(-90)">600 1400 100 1100</text><text transform="translate(-2350,-1500) rotate(-90)">600 1200 400 1200 1100</text>
  <text transform="translate(12680,-11500) rotate(-90)">100 800 100 1000</text><text transform="translate(12680,-8000) rotate(-90)">600 1400 100 1100</text><text transform="translate(12680,-4800) rotate(-90)">600 1400 100 1100</text><text transform="translate(12680,-1500) rotate(-90)">600 1200 1800 900</text>
  <text transform="translate(13830,-12000) rotate(-90)">2200</text><text transform="translate(13830,-9300) rotate(-90)">3200</text><text transform="translate(13830,-6100) rotate(-90)">3200</text><text transform="translate(13830,-2250) rotate(-90)">4500</text>
  <text transform="translate(14570,-6500) rotate(-90)">13100</text>
 </g>
</g>
<text class="t" x="1210" y="927" font-size="8.5">1-1剖面图</text>
<text class="t" x="1276" y="927" font-size="5">1:100</text>
<line x1="1210" y1="929.5" x2="1263" y2="929.5" stroke="#000" stroke-width="0.6"/>
</svg>
</body></html>
